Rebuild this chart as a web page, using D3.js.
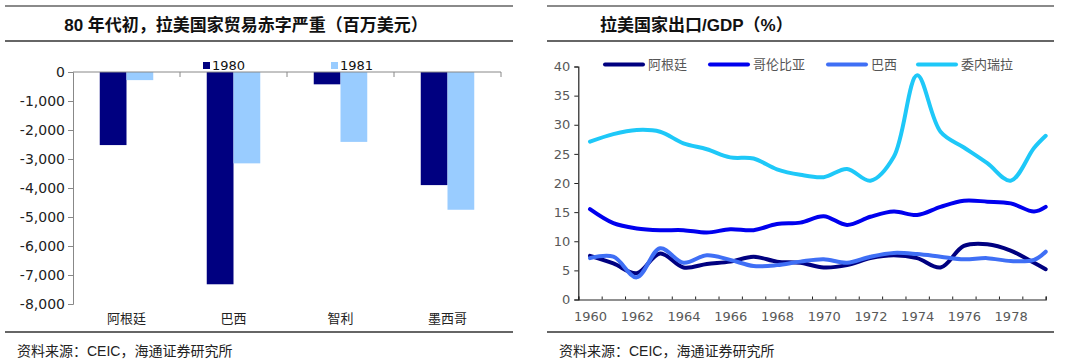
<!DOCTYPE html>
<html><head><meta charset="utf-8">
<script src="https://cdn.jsdelivr.net/npm/d3@7"></script>
<style>
html,body{margin:0;padding:0;background:#fff;}
text{font-family:"DejaVu Sans","Noto Sans CJK SC",sans-serif;}
.cjk{font-family:"Noto Sans CJK SC",sans-serif;}
.title{font-family:"Liberation Sans","Noto Sans CJK SC",sans-serif;font-weight:bold;}
.src{font-family:"Liberation Sans","Noto Sans CJK SC",sans-serif;}
</style></head>
<body>
<svg id="c" width="1080" height="362"></svg>
<script>
// ---------- Left chart data ----------
const countriesL = ["阿根廷", "巴西", "智利", "墨西哥"];
const years2 = ["1980", "1981"];
const deficit1980 = [-2520, -7320, -425, -3900];
const deficit1981 = [-280, -3150, -2410, -4750];
const yTicksL = [0, -1000, -2000, -3000, -4000, -5000, -6000, -7000, -8000];

// ---------- Right chart data ----------
const yearsR = [1960,1961,1962,1963,1964,1965,1966,1967,1968,1969,1970,1971,1972,1973,1974,1975,1976,1977,1978,1979,1980];
const argentina = [7.5,6.2,4.5,7.9,5.5,6.1,6.5,7.35,6.5,6.3,5.5,5.9,7.1,7.6,7.1,5.5,9.2,9.5,8.4,6.3,5.2];
const colombia  = [15.5,13.1,12.2,11.9,11.9,11.5,12.05,11.9,12.95,13.2,14.3,12.8,14.2,15.1,14.5,15.9,16.95,16.8,16.5,15.1,15.9];
const brazil    = [7.1,7.35,3.8,8.8,6.3,7.6,6.8,5.75,5.9,6.5,6.9,6.3,7.35,8.0,7.8,7.35,6.9,7.1,6.6,6.8,8.2];
const venezuela = [27.1,28.4,29.1,28.8,26.8,25.8,24.4,24.2,22.35,21.4,21.0,22.4,20.4,24.5,38.5,28.8,26.1,23.4,20.4,26.0,28.1];
const seriesNames = ["阿根廷", "哥伦比亚", "巴西", "委内瑞拉"];
const yTicksR = [0,5,10,15,20,25,30,35,40];
const xLabelsR = [1960,1962,1964,1966,1968,1970,1972,1974,1976,1978];

const svg = d3.select("#c");

// ---------- frame lines / titles / sources ----------
function frame(x0, x1, title, tx, anchor) {
  svg.append("line").attr("x1", x0).attr("x2", x1).attr("y1", 6).attr("y2", 6)
    .attr("stroke", "#8a8a8a").attr("stroke-width", 2);
  svg.append("line").attr("x1", x0).attr("x2", x1).attr("y1", 41).attr("y2", 41)
    .attr("stroke", "#333").attr("stroke-width", 1.5);
  svg.append("line").attr("x1", x0).attr("x2", x1).attr("y1", 332).attr("y2", 332)
    .attr("stroke", "#333").attr("stroke-width", 1.5);
  svg.append("text").attr("class", "title").attr("x", tx).attr("y", 31)
    .attr("text-anchor", anchor).attr("font-size", 17).attr("fill", "#111").text(title);
  svg.append("text").attr("class", "src").attr("x", x0 + 12).attr("y", 356)
    .attr("font-size", 14).attr("fill", "#222").text("资料来源：CEIC，海通证券研究所");
}
frame(5, 513, "80 年代初，拉美国家贸易赤字严重（百万美元）", 246, "middle");
frame(547, 1054, "拉美国家出口/GDP（%）", 600, "start");

// ---------- Left bar chart ----------
const xL = d3.scaleBand().domain(countriesL).range([73, 501]).padding(0);
const xSub = d3.scaleBand().domain(years2).range([0, xL.bandwidth()]).paddingInner(0).paddingOuter(1);
const yL = d3.scaleLinear().domain([-8000, 0]).range([304, 72]);
const fmtL = d => d === 0 ? "0" : d3.format(",")(d).replace("−", "-");

const gL = svg.append("g");
const barData = countriesL.map((c, i) => ({c, vals: [{k: "1980", v: deficit1980[i]}, {k: "1981", v: deficit1981[i]}]}));
const colorsL = {"1980": "#000080", "1981": "#99ccff"};
gL.selectAll("g.grp").data(barData).join("g").attr("class", "grp")
  .attr("transform", d => `translate(${xL(d.c)},0)`)
  .selectAll("rect").data(d => d.vals).join("rect")
  .attr("x", d => xSub(d.k)).attr("width", xSub.bandwidth())
  .attr("y", d => yL(0)).attr("height", d => yL(d.v) - yL(0))
  .attr("fill", d => colorsL[d.k]);

const axL = gL.append("g").attr("transform", "translate(73,0)")
  .call(d3.axisLeft(yL).tickValues(yTicksL).tickSize(5).tickFormat(fmtL));
axL.select(".domain").attr("stroke", "#888");
axL.selectAll(".tick line").attr("stroke", "#888");
axL.selectAll(".tick text").attr("font-size", 14).attr("fill", "#222").attr("x", -8);

// category axis at y=0 with boundary ticks
const axX = gL.append("g").attr("transform", `translate(0,${yL(0)})`);
axX.append("line").attr("x1", 73).attr("x2", 501).attr("stroke", "#888");
axX.selectAll("line.tk").data(countriesL).join("line").attr("class", "tk")
  .attr("x1", d => xL(d) + xL.bandwidth()).attr("x2", d => xL(d) + xL.bandwidth())
  .attr("y1", 0).attr("y2", 5).attr("stroke", "#888");
gL.selectAll("text.cat").data(countriesL).join("text").attr("class", "cjk cat")
  .attr("x", d => xL(d) + xL.bandwidth() / 2).attr("y", 323)
  .attr("text-anchor", "middle").attr("font-size", 13).attr("fill", "#222").text(d => d);

// legend left
const legL = [{k: "1980", x: 203}, {k: "1981", x: 331}];
const lg = gL.selectAll("g.leg").data(legL).join("g").attr("class", "leg")
  .attr("transform", d => `translate(${d.x},62)`);
lg.append("rect").attr("width", 7).attr("height", 7).attr("fill", d => colorsL[d.k]);
lg.append("text").attr("x", 9).attr("y", 8).attr("font-size", 13).attr("fill", "#111").text(d => d.k);

// ---------- Right line chart ----------
const xR = d3.scaleLinear().domain([1959.5, 1979.5]).range([578.3, 1045.7]).clamp(true);
const yR = d3.scaleLinear().domain([0, 40]).range([299.5, 66.5]);
const gR = svg.append("g");

const axYR = gR.append("g").attr("transform", "translate(578.3,0)")
  .call(d3.axisLeft(yR).tickValues(yTicksR).tickSize(4));
axYR.select(".domain").attr("stroke", "#222").attr("stroke-width", 1.2);
axYR.selectAll(".tick line").attr("stroke", "#222");
axYR.selectAll(".tick text").attr("font-size", 13).attr("fill", "#595959").attr("x", -8);

const bounds = d3.range(1959.5, 1980, 1);
const axXR = gR.append("g").attr("transform", `translate(0,${yR(0)})`)
  .call(d3.axisBottom(xR).tickValues(bounds).tickSize(-3).tickFormat(""));
axXR.select(".domain").attr("stroke", "#222").attr("stroke-width", 1.2);
axXR.selectAll(".tick line").attr("stroke", "#222");
const axXR2 = gR.append("g").attr("transform", `translate(0,${yR(0)})`)
  .call(d3.axisBottom(xR).tickValues(xLabelsR).tickSize(0).tickFormat(d3.format("d")));
axXR2.select(".domain").remove();
axXR2.selectAll(".tick text").attr("font-size", 13).attr("fill", "#595959").attr("dy", "1.45em");

const colorsR = ["#000080", "#0000ee", "#3f6ff5", "#1ec8f8"];
const allSeries = [argentina, colombia, brazil, venezuela];
const line = d3.line().x((d, i) => xR(yearsR[i])).y(d => yR(d)).curve(d3.curveCatmullRom.alpha(0.5));
// draw order: Venezuela, Colombia, Argentina, Brazil
[3, 1, 0, 2].forEach(si => {
  gR.append("path").datum(allSeries[si]).attr("d", line)
    .attr("fill", "none").attr("stroke", colorsR[si]).attr("stroke-width", 4)
    .attr("stroke-linecap", "round").attr("stroke-linejoin", "round");
});

// legend right
const legR = [{x: 605}, {x: 710}, {x: 828}, {x: 918}];
const lgR = gR.selectAll("g.legr").data(seriesNames.map((n, i) => ({n, i, x: legR[i].x}))).join("g")
  .attr("class", "legr").attr("transform", d => `translate(${d.x},64.5)`);
lgR.append("line").attr("x1", 0).attr("x2", 38).attr("stroke", d => colorsR[d.i])
  .attr("stroke-width", 4).attr("stroke-linecap", "round");
lgR.append("text").attr("class", "cjk").attr("x", 43).attr("y", 4.5).attr("font-size", 13)
  .attr("fill", "#555").text(d => d.n);
</script>
</body></html>
